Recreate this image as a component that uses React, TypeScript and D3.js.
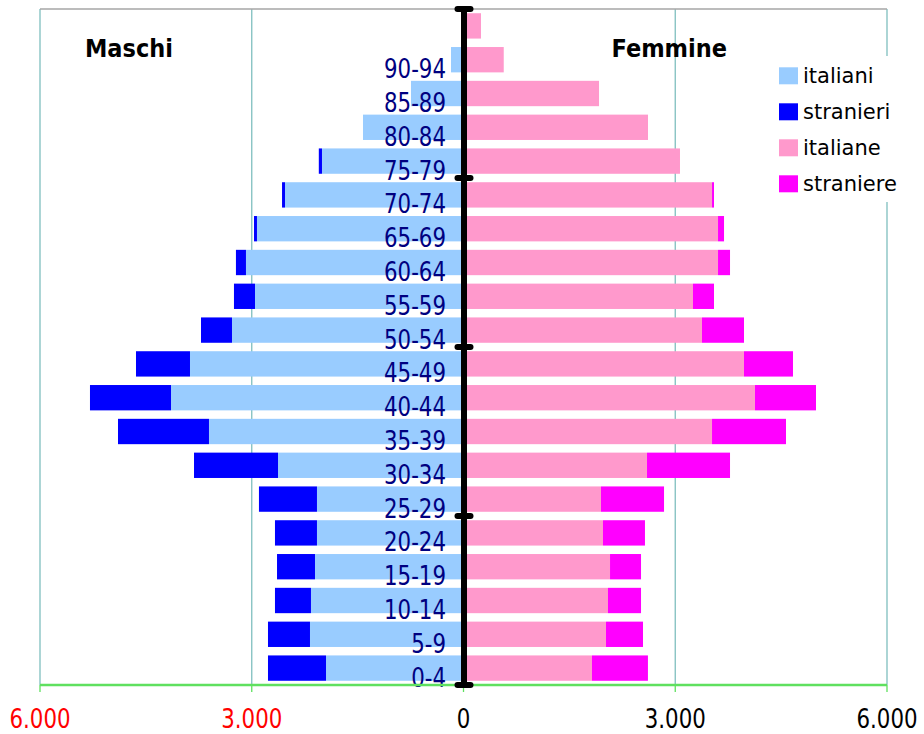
import React from "react";
import * as d3 from "d3";

const ageGroups = ["0-4","5-9","10-14","15-19","20-24","25-29","30-34","35-39","40-44","45-49","50-54","55-59","60-64","65-69","70-74","75-79","80-84","85-89","90-94","95-99"];
const ageLabels = ["0-4","5-9","10-14","15-19","20-24","25-29","30-34","35-39","40-44","45-49","50-54","55-59","60-64","65-69","70-74","75-79","80-84","85-89","90-94",""];
const maschiItaliani = [1948,2175,2161,2104,2076,2076,2628,3606,4144,3875,3280,2954,3082,2926,2529,2005,1424,744,177,35];
const maschiStranieri = [822,595,510,538,595,822,1190,1289,1148,765,439,298,142,42,42,45,0,0,0,0];
const femmineItaliane = [1820,2019,2047,2076,1976,1948,2600,3521,4130,3974,3379,3251,3606,3606,3521,3067,2614,1920,570,248];
const femmineStraniere = [793,524,468,439,595,893,1176,1048,864,694,595,298,170,85,28,0,0,0,0,0];
const xTicks = [-6000,-3000,0,3000,6000];
const gridTicks = [-6000,-3000,3000,6000];
const legendItems = ["italiani","stranieri","italiane","straniere"];
const legendColors = ["#99ccff","#0000ff","#ff99cc","#ff00ff"];

const W = 924, H = 734;
const left = 40, right = 887, top = 9, bottom = 685;

export default function App() {
  const x = d3.scaleLinear().domain([-6000, 6000]).range([left, right]);
  const y = d3.scaleBand<string>()
    .domain([...ageGroups].reverse())
    .range([top, bottom])
    .paddingInner(0.25)
    .paddingOuter(0.125);
  const bw = y.bandwidth();
  const step = y.step();
  const fmt = (v: number) => d3.format(",")(Math.abs(v)).replace(/,/g, ".");
  const x0 = x(0);
  const capIdx = [0, 5, 10, 15, 20];

  return (
    <svg width={W} height={H} style={{ position: "absolute", left: 0, top: 0, background: "#fff" }}
      fontFamily="DejaVu Sans, Verdana, sans-serif">
      <rect x={0} y={0} width={W} height={H} fill="#fff" />
      {/* grid */}
      {gridTicks.map((t) => (
        <line key={t} x1={x(t)} x2={x(t)} y1={top} y2={bottom} stroke="#7fbfbf" strokeWidth={1.3} />
      ))}
      <line x1={left} x2={right} y1={top} y2={top} stroke="#a6a6a6" strokeWidth={1.3} />
      {/* bars */}
      {ageGroups.map((g, i) => {
        const yy = y(g)!;
        const mi = maschiItaliani[i], ms = maschiStranieri[i];
        const fi = femmineItaliane[i], fs = femmineStraniere[i];
        return (
          <g key={g}>
            <rect x={x(-mi)} y={yy} width={x0 - x(-mi)} height={bw} fill={legendColors[0]} />
            {ms > 0 && <rect x={x(-mi - ms)} y={yy} width={x(-mi) - x(-mi - ms)} height={bw} fill={legendColors[1]} />}
            <rect x={x0} y={yy} width={x(fi) - x0} height={bw} fill={legendColors[2]} />
            {fs > 0 && <rect x={x(fi)} y={yy} width={x(fi + fs) - x(fi)} height={bw} fill={legendColors[3]} />}
          </g>
        );
      })}
      {/* category labels */}
      {ageGroups.map((g, i) => (
        <text key={"l" + g}
          transform={`translate(${x0 - 17.5},${y(g)! + bw + (step - bw) / 2 + 1.5}) scale(0.79,1)`}
          textAnchor="end" fontSize={27} fill="#000080">{ageLabels[i]}</text>
      ))}
      {/* bottom axis */}
      <line x1={left} x2={right} y1={bottom} y2={bottom} stroke="#5fe05f" strokeWidth={2.5} />
      {xTicks.map((t) => (
        <g key={"t" + t}>
          <line x1={x(t)} x2={x(t)} y1={bottom} y2={bottom + 7} stroke="#5fe05f" strokeWidth={1.3} />
          <text transform={`translate(${x(t)},${bottom + 43}) scale(0.79,1)`} textAnchor="middle"
            fontSize={27} fill={t < 0 ? "#ff0000" : "#000"}>{fmt(t)}</text>
        </g>
      ))}
      {/* central axis */}
      <line x1={x0 + 0.5} x2={x0 + 0.5} y1={top} y2={bottom} stroke="#000" strokeWidth={6} />
      {capIdx.map((k) => {
        const cy = top + k * step;
        return <line key={"c" + k} x1={x0 - 6} x2={x0 + 7} y1={cy} y2={cy} stroke="#000" strokeWidth={6} strokeLinecap="round" />;
      })}
      {/* titles */}
      <text transform="translate(85,56.5) scale(0.9,1)" fontSize={25} fontWeight="bold" fill="#000">Maschi</text>
      <text transform="translate(611.5,56.5) scale(0.9,1)" fontSize={25} fontWeight="bold" fill="#000">Femmine</text>
      {/* legend */}
      <rect x={765} y={56} width={159} height={146} fill="#fff" />
      {legendItems.map((l, i) => (
        <g key={l}>
          <rect x={779} y={67.3 + i * 36} width={19} height={17} fill={legendColors[i]} />
          <text x={803} y={83 + i * 36} fontSize={21} fill="#000">{l}</text>
        </g>
      ))}
    </svg>
  );
}
